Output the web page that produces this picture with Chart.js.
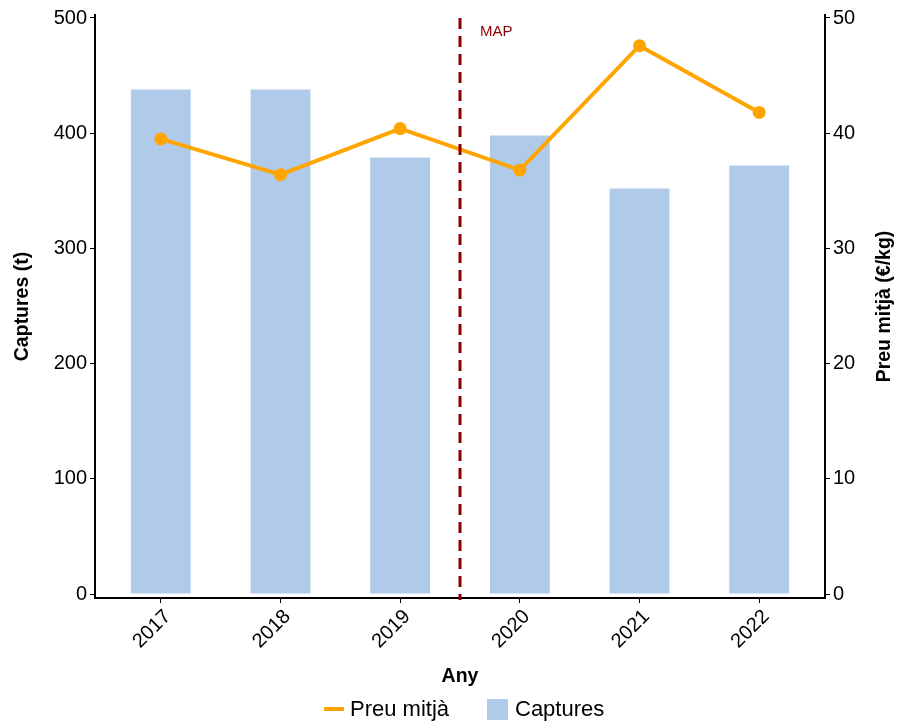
<!DOCTYPE html>
<html lang="ca">
  <head>
    <meta charset="UTF-8" />
    <title>Captures i preu mitjà</title>
    <script src="https://cdn.jsdelivr.net/npm/chart.js"></script>
    <style>
      html, body { margin: 0; padding: 0; background: #fff; }
      #wrap { width: 897px; height: 723px; }
    </style>
  </head>
  <body>
    <div id="wrap"><canvas id="mychart" width="897" height="723"></canvas></div>
    <script>
      const years = [2017, 2018, 2019, 2020, 2021, 2022];
      const captures = [438, 438, 379, 398, 352, 372];
      const preuMitja = [39.5, 36.4, 40.4, 36.8, 47.6, 41.8];
      const leftTicks = [0, 100, 200, 300, 400, 500];
      const rightTicks = [0, 10, 20, 30, 40, 50];
      const mapYear = 2019.5;

      const FONT = "'Liberation Sans', Arial, sans-serif";
      const BAR_COLOR = "rgb(176, 203, 233)";
      const LINE_COLOR = "#FFA500";
      const MAP_COLOR = "#8B0000";

      // titols, linia MAP i llegenda dibuixats a ma
      const extras = {
        id: "extras",
        afterDatasetsDraw(chart) {
          const { ctx, chartArea, scales } = chart;
          const x = scales.x.getPixelForValue(mapYear);
          ctx.save();
          ctx.strokeStyle = MAP_COLOR;
          ctx.lineWidth = 3;
          ctx.setLineDash([11, 7]);
          ctx.beginPath();
          ctx.moveTo(x, scales.y.getPixelForValue(500));
          ctx.lineTo(x, chartArea.bottom + 2);
          ctx.stroke();
          ctx.setLineDash([]);
          ctx.fillStyle = MAP_COLOR;
          ctx.font = "15px " + FONT;
          ctx.textBaseline = "middle";
          ctx.fillText("MAP", x + 20, 32);
          ctx.restore();
        },
        afterDraw(chart) {
          const { ctx, chartArea } = chart;
          const midY = (chartArea.top + chartArea.bottom) / 2;
          ctx.save();
          ctx.fillStyle = "#000";
          ctx.font = "bold 19.5px " + FONT;
          ctx.textAlign = "center";
          ctx.textBaseline = "middle";

          ctx.save();
          ctx.translate(23, midY);
          ctx.rotate(-Math.PI / 2);
          ctx.fillText("Captures (t)", 0, 0);
          ctx.restore();

          ctx.save();
          ctx.translate(885, midY);
          ctx.rotate(-Math.PI / 2);
          ctx.fillText("Preu mitjà (€/kg)", 0, 0);
          ctx.restore();

          ctx.fillText("Any", (chartArea.left + chartArea.right) / 2, 677);

          // llegenda
          ctx.font = "22px " + FONT;
          ctx.textAlign = "left";
          ctx.strokeStyle = LINE_COLOR;
          ctx.lineWidth = 4;
          ctx.beginPath();
          ctx.moveTo(324, 709);
          ctx.lineTo(344, 709);
          ctx.stroke();
          ctx.fillText("Preu mitjà", 350, 710);
          ctx.fillStyle = BAR_COLOR;
          ctx.fillRect(487, 699, 21, 21);
          ctx.fillStyle = "#000";
          ctx.fillText("Captures", 515, 710);
          ctx.restore();
        },
      };

      const axisCommon = {
        grid: { drawOnChartArea: false, drawTicks: true, tickLength: 5, color: "#000", lineWidth: 1, offset: false },
        border: { display: true, color: "#000", width: 2 },
      };

      const ctx = document.getElementById("mychart").getContext("2d");
      new Chart(ctx, {
        data: {
          datasets: [
            {
              type: "line",
              label: "Preu mitjà",
              data: years.map((y, i) => ({ x: y, y: preuMitja[i] })),
              yAxisID: "y1",
              borderColor: LINE_COLOR,
              backgroundColor: LINE_COLOR,
              borderWidth: 4,
              pointRadius: 6.5,
              pointBorderWidth: 0,
              tension: 0,
              order: 0,
            },
            {
              type: "bar",
              label: "Captures",
              data: years.map((y, i) => ({ x: y, y: captures[i] })),
              yAxisID: "y",
              backgroundColor: BAR_COLOR,
              borderWidth: 0,
              barPercentage: 0.5,
              categoryPercentage: 1,
              order: 1,
            },
          ],
        },
        plugins: [extras],
        options: {
          responsive: false,
          animation: false,
          layout: { padding: { top: 15, left: 0, right: 0, bottom: 0 } },
          plugins: { legend: { display: false }, tooltip: { enabled: false } },
          scales: {
            x: {
              type: "linear",
              offset: false,
              min: 2016.45,
              max: 2022.55,
              ...axisCommon,
              afterBuildTicks: (s) => { s.ticks = years.map((v) => ({ value: v })); },
              afterFit: (s) => { s.height = 125; },
              ticks: {
                color: "#000",
                font: { size: 20, family: FONT },
                maxRotation: 45,
                minRotation: 45,
                padding: 2,
                labelOffset: 7,
                callback: (v) => String(v),
              },
            },
            y: {
              type: "linear",
              position: "left",
              min: -3.47,
              max: 502.6,
              ...axisCommon,
              afterBuildTicks: (s) => { s.ticks = leftTicks.map((v) => ({ value: v })); },
              afterFit: (s) => { s.width = 95; },
              ticks: { color: "#000", font: { size: 20, family: FONT }, padding: 3 },
            },
            y1: {
              type: "linear",
              position: "right",
              min: -0.347,
              max: 50.26,
              ...axisCommon,
              afterBuildTicks: (s) => { s.ticks = rightTicks.map((v) => ({ value: v })); },
              afterFit: (s) => { s.width = 72; },
              ticks: { color: "#000", font: { size: 20, family: FONT }, padding: 3 },
            },
          },
        },
      });
    </script>
  </body>
</html>
